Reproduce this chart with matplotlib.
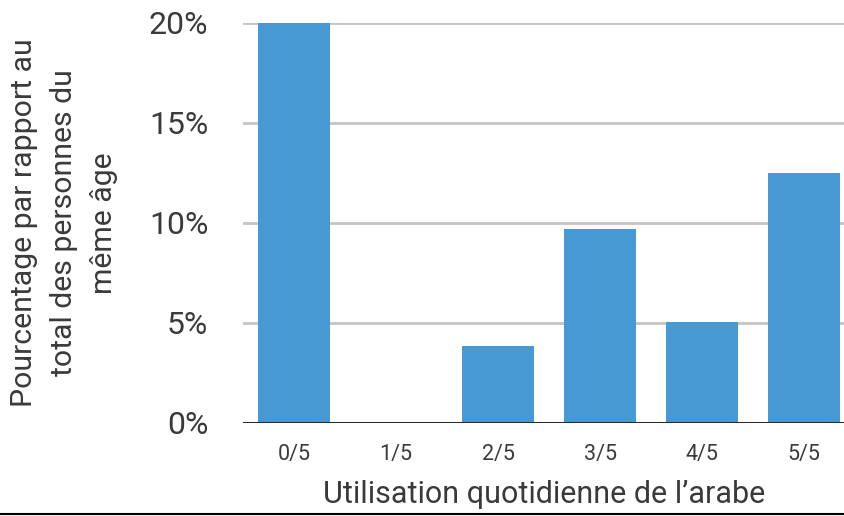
import matplotlib.pyplot as plt
from matplotlib.lines import Line2D

categories = ['0/5', '1/5', '2/5', '3/5', '4/5', '5/5']
values = [20.0, 0.0, 3.85, 9.7, 5.05, 12.5]
yticks = [0, 5, 10, 15, 20]
ytick_labels = ['0%', '5%', '10%', '15%', '20%']

plt.rcParams['font.family'] = ['Roboto', 'DejaVu Sans']
text_color = '#3a3a3a'

fig = plt.figure(figsize=(8.45, 5.16), dpi=100)
ax = fig.add_axes([243 / 845, 1 - 423 / 516, 1 - 243 / 845, 400 / 516])

x = range(len(categories))
ax.bar(x, values, width=0.71, color='#4699d3', zorder=3)

# gridlines and the zero line
for y in yticks[1:]:
    ax.axhline(y, color='#c4c4c4', lw=2, zorder=1)
ax.axhline(0, color='#2b2b2b', lw=2.2, zorder=4)

ax.set_xlim(-0.5, 5.4)
ax.set_ylim(0, 20)
ax.set_xticks(list(x))
ax.set_xticklabels(categories, fontsize=15.5, color=text_color)
ax.set_yticks(yticks)
ax.set_yticklabels(ytick_labels, fontsize=23, color=text_color)
ax.tick_params(axis='x', length=0, pad=15)
ax.tick_params(axis='y', length=0, pad=25)
for s in ax.spines.values():
    s.set_visible(False)

ax.set_xlabel('Utilisation quotidienne de l\u2019arabe', fontsize=22,
              color=text_color, labelpad=11)
ax.set_ylabel('Pourcentage par rapport au\ntotal des personnes du\nmême âge',
              fontsize=21.8, color=text_color, linespacing=1.55, labelpad=22)

# thin rule at the very bottom of the picture
fig.add_artist(Line2D([0, 1], [2 / 516, 2 / 516], color='black', lw=1.5,
                      transform=fig.transFigure))

fig.savefig('out.png', dpi=100)
